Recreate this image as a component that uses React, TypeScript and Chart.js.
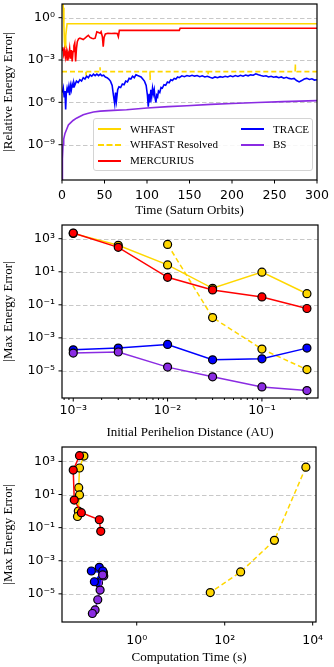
import React, { useEffect, useRef } from 'react';
import { Chart, registerables } from 'chart.js';

Chart.register(...registerables);

// ---------- Panel 1 : relative energy error vs time ----------
const X1_TICKS = [0, 50, 100, 150, 200, 250, 300];
const Y1_TICKS = [1e-9, 1e-6, 1e-3, 1];

const WHFAST_T = [0.8, 1.5, 2.2, 2.9, 3.6, 4.4, 5.2, 6.0, 300];
const WHFAST_E = [30, 5, 0.3, 0.02, 0.008, 0.05, 0.15, 0.37, 0.37];

const WHRES_T = [0, 28.2, 28.4, 28.6, 44.6, 44.8, 45.0, 103.5, 103.7, 103.9, 171.8, 172, 172.2, 274.3, 274.5, 274.7, 300];
const WHRES_E = [1.5e-4, 1.5e-4, 7.8e-5, 1.5e-4, 1.5e-4, 3.0e-4, 1.5e-4, 1.5e-4, 3.8e-5, 1.5e-4, 1.5e-4, 8.7e-5, 1.5e-4, 1.5e-4, 5.2e-4, 1.5e-4, 1.5e-4];

const MERC_T = [0, 1, 2, 3, 4, 5, 6, 7, 8, 9, 10, 11, 12, 13, 14, 15, 16, 17, 18,
  19.5, 21, 23, 25, 27, 29, 31, 33, 35, 37, 39,
  41, 43, 45, 46, 47.5, 48.5, 49.5, 51, 54, 58, 62, 65, 66.3, 67.5,
  138, 139, 300];
const MERC_E = [5.0e-3, 7.9e-3, 2.5e-3, 5.0e-3, 1.6e-3, 4.0e-3, 1.0e-3, 3.2e-3, 2.0e-3, 6.3e-3, 1.26e-3, 5.0e-3, 7.9e-4, 4.0e-3, 1.0e-2, 1.6e-2, 7.9e-4, 6.3e-3, 2.0e-2,
  3.2e-2, 3.5e-2, 3.2e-2, 2.8e-2, 3.5e-2, 4.5e-2, 5.6e-2, 4.0e-2, 3.5e-2, 3.2e-2, 3.5e-2,
  0.1, 8.9e-2, 7.9e-2, 0.1, 4.5e-2, 8.9e-3, 4.0e-2, 7.1e-2, 7.9e-2, 7.6e-2, 7.9e-2, 7.6e-2, 4.5e-2, 0.126,
  0.126, 0.178, 0.178];

const TRACE_T = [0.5, 1.5, 2.5, 3.5, 4.3, 5, 6, 7, 8, 9, 10, 11, 12, 13, 14, 15,
  17, 19, 21, 23, 25, 27, 29, 31, 33, 35, 37, 39, 41, 43, 45, 47, 49, 51, 53, 55, 57, 59,
  60.5, 62, 63, 64, 65.5,
  67, 69, 71, 73, 75, 77, 79, 81, 83, 85, 87, 89, 91, 93, 95, 97, 99,
  100.5, 101.5, 102.5, 103.5, 104.5, 105.5, 106.5, 107.5, 108.5, 109.5, 110.5, 111.5, 112.5, 113.5,
  115, 116.5, 118,
  120, 122, 124, 126, 128, 130, 132, 134, 136, 138,
  141, 144, 147, 150, 153, 156, 159, 162, 165, 168, 171, 174, 177, 180, 183, 186, 189, 192, 195, 198,
  201, 204, 207, 210, 213, 216, 219, 222, 225, 228, 231, 234, 237, 240, 243, 246, 249, 252, 255, 258,
  261, 264, 267, 270, 273, 276, 279, 282, 285, 288, 291, 294, 297, 300];
const TRACE_E = [5.0e-6, 1.0e-5, 2.5e-6, 6.3e-6, 3.2e-7, 4.0e-6, 1.0e-5, 5.0e-6, 1.26e-5, 3.2e-6, 1.6e-5, 7.9e-6, 2.0e-5, 1.26e-5, 2.5e-5, 1.6e-5,
  3.2e-5, 2.5e-5, 4.0e-5, 3.2e-5, 5.6e-5, 4.5e-5, 7.1e-5, 5.6e-5, 8.9e-5, 7.1e-5, 1.0e-4, 7.9e-5, 1.0e-4, 7.9e-5, 1.0e-4, 7.6e-5, 8.3e-5, 6.3e-5, 5.6e-5, 4.5e-5, 3.2e-5, 1.6e-5,
  3.2e-6, 7.9e-7, 5.0e-6, 1.26e-6, 7.9e-6,
  1.26e-5, 1.12e-5, 2.0e-5, 1.78e-5, 3.2e-5, 2.8e-5, 5.0e-5, 4.5e-5, 7.1e-5, 5.6e-5, 8.9e-5, 7.9e-5, 7.1e-5, 6.3e-5, 4.5e-5, 3.2e-5, 1.6e-5,
  3.2e-6, 5.0e-7, 4.0e-6, 1.0e-6, 7.9e-6, 2.5e-6, 1.0e-5, 4.0e-6, 7.9e-6, 2.0e-6, 1.0e-6, 3.2e-6, 2.5e-6, 6.3e-6,
  5.0e-6, 1.12e-5, 1.0e-5,
  1.78e-5, 1.6e-5, 2.8e-5, 2.5e-5, 4.0e-5, 3.5e-5, 5.0e-5, 4.5e-5, 6.3e-5, 5.6e-5,
  7.6e-5, 6.6e-5, 7.9e-5, 7.1e-5, 8.3e-5, 7.2e-5, 7.9e-5, 6.6e-5, 7.6e-5, 6.3e-5, 7.1e-5, 6.0e-5, 5.2e-5, 6.3e-5, 5.6e-5, 6.6e-5, 6.0e-5, 7.1e-5, 6.3e-5, 7.6e-5,
  6.6e-5, 7.9e-5, 6.9e-5, 8.3e-5, 7.2e-5, 8.7e-5, 7.6e-5, 8.9e-5, 8.3e-5, 1.05e-4, 8.9e-5, 7.9e-5, 7.1e-5, 7.6e-5, 6.3e-5, 7.1e-5, 6.0e-5, 6.6e-5, 5.6e-5, 6.3e-5,
  5.2e-5, 6.0e-5, 5.0e-5, 4.5e-5, 5.0e-5, 3.5e-5, 2.8e-5, 3.5e-5, 4.5e-5, 5.0e-5, 4.2e-5, 4.7e-5, 3.8e-5, 4.0e-5];

const BS_T = [0.05, 0.5, 1.2, 2, 3.5, 5.5, 7.5, 10, 13, 17, 21, 25, 30, 37, 45, 60, 76, 100, 125, 147, 175, 200, 230, 260, 300];
const BS_E = [1e-13, 1e-10, 1e-9, 2.5e-9, 6.3e-9, 1.26e-8, 2.5e-8, 3.5e-8, 5.2e-8, 7.6e-8, 1e-7, 1.32e-7, 1.6e-7, 2.1e-7, 2.4e-7, 2.7e-7, 3.0e-7, 4.0e-7, 5.0e-7, 5.8e-7, 7.2e-7, 8.3e-7, 9.8e-7, 1.12e-6, 1.32e-6];

// ---------- Panels 2 & 3 : max energy error ----------
const PERI = [0.001, 0.003, 0.01, 0.03, 0.1, 0.3];
const PERI_RES = [0.01, 0.03, 0.1, 0.3];
const ERR_WHFAST = [2100, 400, 26, 1.0, 9.5, 0.47];
const ERR_WHFAST_RES = [450, 0.017, 2.1e-4, 1.2e-5];
const ERR_MERC = [2200, 300, 4.6, 0.8, 0.3, 0.06];
const ERR_TRACE = [1.9e-4, 2.4e-4, 4.0e-4, 4.7e-5, 5.4e-5, 2.4e-4];
const ERR_BS = [1.2e-4, 1.4e-4, 1.7e-5, 4.4e-6, 1.07e-6, 6.5e-7];

const TIME_WHFAST = [0.063, 0.050, 0.048, 0.047, 0.050, 0.045];
const TIME_WHFAST_RES = [7000, 1350, 230, 47];
const TIME_MERC = [0.050, 0.036, 0.038, 0.055, 0.141, 0.152];
const TIME_TRACE = [0.175, 0.093, 0.141, 0.135, 0.109, 0.169];
const TIME_BS = [0.178, 0.168, 0.147, 0.130, 0.113, 0.098];

const Y23_TICKS = [1e-5, 1e-3, 1e-1, 1e1, 1e3];
const X2_TICKS = [8e-4, 9e-4, 1e-3, 2e-3, 3e-3, 4e-3, 5e-3, 6e-3, 7e-3, 8e-3, 9e-3,
  1e-2, 2e-2, 3e-2, 4e-2, 5e-2, 6e-2, 7e-2, 8e-2, 9e-2, 1e-1, 2e-1, 3e-1];
const X2_LABELED = [1e-3, 1e-2, 1e-1];
const X3_TICKS = [1, 100, 10000];

// ---------- styles ----------
const GOLD = '#FFD700';
const RED = '#FF0000';
const BLUE = '#0000FF';
const PURPLE = '#8A2BE2';
const GRID = '#c8c8c8';
const TICK_FONT = { family: "'DejaVu Sans', sans-serif", size: 12.5 };
const TITLE_FONT = { family: "'Liberation Serif', serif", size: 13 };

const SUP: Record<string, string> = {
  '0': '⁰', '1': '¹', '2': '²', '3': '³', '4': '⁴', '5': '⁵', '6': '⁶', '7': '⁷', '8': '⁸', '9': '⁹', '-': '⁻',
};
function powLabel(v: number) {
  const e = Math.round(Math.log10(v));
  return '10' + String(e).split('').map((c) => SUP[c]).join('');
}

const mplAxes = {
  id: 'mplAxes',
  beforeDatasetsDraw(chart: any) {
    const { ctx, chartArea: a, scales } = chart;
    const ys = scales.y;
    ctx.save();
    ctx.strokeStyle = GRID;
    ctx.lineWidth = 1;
    ctx.setLineDash([4.5, 2.5]);
    for (const t of ys.ticks) {
      if (!t.mj) continue;
      const y = Math.round(ys.getPixelForValue(t.value)) + 0.5;
      ctx.beginPath();
      ctx.moveTo(a.left, y);
      ctx.lineTo(a.right, y);
      ctx.stroke();
    }
    ctx.restore();
  },
  afterDraw(chart: any) {
    const { ctx, chartArea: a, scales } = chart;
    ctx.save();
    ctx.strokeStyle = '#000';
    ctx.lineWidth = 1.2;
    ctx.setLineDash([]);
    ctx.strokeRect(a.left, a.top, a.right - a.left, a.bottom - a.top);
    ctx.lineWidth = 1;
    const xs = scales.x;
    for (const t of xs.ticks) {
      const x = xs.getPixelForValue(t.value);
      if (x < a.left - 1 || x > a.right + 1) continue;
      const len = t.mj ? 3.5 : 2;
      ctx.beginPath();
      ctx.moveTo(x, a.bottom);
      ctx.lineTo(x, a.bottom + len);
      ctx.stroke();
    }
    const ys = scales.y;
    for (const t of ys.ticks) {
      const y = ys.getPixelForValue(t.value);
      if (y < a.top - 1 || y > a.bottom + 1) continue;
      const len = t.mj ? 3.5 : 2;
      ctx.beginPath();
      ctx.moveTo(a.left - len, y);
      ctx.lineTo(a.left, y);
      ctx.stroke();
    }
    ctx.restore();
  },
};

function yAxis(type: string, min: number, max: number, ticks: number[], title: string) {
  return {
    type, min, max,
    afterBuildTicks: (s: any) => { s.ticks = ticks.map((v) => ({ value: v, mj: true })); },
    afterFit: (s: any) => { s.width = 62; s.paddingTop = 0; s.paddingBottom = 0; },
    grid: { display: false, drawTicks: false },
    border: { display: false },
    ticks: {
      autoSkip: false, padding: 7, color: '#000', font: TICK_FONT,
      callback: (v: any, i: number, t: any[]) => (t[i] && t[i].mj ? powLabel(v) : ''),
    },
    title: { display: true, text: title, color: '#000', font: TITLE_FONT, padding: { top: 1, bottom: 0 } },
  };
}

function xAxis(type: string, min: number, max: number, ticks: number[], labeled: number[], height: number,
  pad: number, titlePad: number, title: string, log: boolean) {
  return {
    type, min, max,
    afterBuildTicks: (s: any) => { s.ticks = ticks.map((v) => ({ value: v, mj: labeled.includes(v) })); },
    afterFit: (s: any) => { s.height = height; s.paddingLeft = 0; s.paddingRight = 0; },
    grid: { display: false, drawTicks: false },
    border: { display: false },
    ticks: {
      autoSkip: false, maxRotation: 0, minRotation: 0, padding: pad, color: '#000', font: TICK_FONT,
      callback: (v: any, i: number, t: any[]) => (t[i] && t[i].mj ? (log ? powLabel(v) : String(v)) : ''),
    },
    title: { display: true, text: title, color: '#000', font: TITLE_FONT, padding: { top: 0, bottom: titlePad } },
  };
}

function lineSet(label: string, xs: number[], ys: number[], color: string, idx: number, dash: number[] = []) {
  return {
    label,
    data: xs.map((x, i) => ({ x, y: ys[i] })),
    showLine: true,
    borderColor: color,
    backgroundColor: color,
    borderWidth: 1.6,
    borderDash: dash,
    pointRadius: 0,
    pointHoverRadius: 0,
    tension: 0,
    order: -idx,
  };
}

function markerSet(label: string, xs: number[], ys: number[], color: string, idx: number, dash: number[] = []) {
  return {
    label,
    data: xs.map((x, i) => ({ x, y: ys[i] })),
    showLine: true,
    borderColor: color,
    backgroundColor: color,
    borderWidth: 1.5,
    borderDash: dash,
    pointRadius: 4,
    pointHoverRadius: 4,
    pointBackgroundColor: color,
    pointBorderColor: '#000',
    pointBorderWidth: 1.2,
    tension: 0,
    order: -idx,
  };
}

function baseOptions(padTop: number, padRight: number, scales: any) {
  return {
    animation: false,
    responsive: false,
    events: [],
    layout: { padding: { top: padTop, right: padRight, bottom: 0, left: 0 } },
    plugins: { legend: { display: false }, tooltip: { enabled: false } },
    scales,
  };
}

function buildChart1(): any {
  return {
    type: 'scatter',
    data: {
      datasets: [
        lineSet('WHFAST', WHFAST_T, WHFAST_E, GOLD, 0),
        lineSet('WHFAST Resolved', WHRES_T, WHRES_E, GOLD, 1, [5, 3]),
        lineSet('MERCURIUS', MERC_T, MERC_E, RED, 2),
        lineSet('TRACE', TRACE_T, TRACE_E, BLUE, 3),
        lineSet('BS', BS_T, BS_E, PURPLE, 4),
      ],
    },
    options: baseOptions(4, 17, {
      x: xAxis('linear', 0, 300, X1_TICKS, X1_TICKS, 38, 8, 0, 'Time (Saturn Orbits)', false),
      y: yAxis('logarithmic', 3.16e-12, 9.3, Y1_TICKS, '|Relative Energy Error|'),
    }),
    plugins: [mplAxes],
  };
}

function buildChart2(): any {
  return {
    type: 'scatter',
    data: {
      datasets: [
        markerSet('WHFAST', PERI, ERR_WHFAST, GOLD, 0),
        markerSet('WHFAST Resolved', PERI_RES, ERR_WHFAST_RES, GOLD, 1, [5, 3]),
        markerSet('MERCURIUS', PERI, ERR_MERC, RED, 2),
        markerSet('TRACE', PERI, ERR_TRACE, BLUE, 3),
        markerSet('BS', PERI, ERR_BS, PURPLE, 4),
      ],
    },
    options: baseOptions(7, 16, {
      x: xAxis('logarithmic', 7.6e-4, 0.393, X2_TICKS, X2_LABELED, 42, 5, 0, 'Initial Perihelion Distance (AU)', true),
      y: yAxis('logarithmic', 2.3e-7, 6760, Y23_TICKS, '|Max Energy Error|'),
    }),
    plugins: [mplAxes],
  };
}

function buildChart3(): any {
  return {
    type: 'scatter',
    data: {
      datasets: [
        markerSet('WHFAST', TIME_WHFAST, ERR_WHFAST, GOLD, 0),
        markerSet('WHFAST Resolved', TIME_WHFAST_RES, ERR_WHFAST_RES, GOLD, 1, [5, 3]),
        markerSet('MERCURIUS', TIME_MERC, ERR_MERC, RED, 2),
        markerSet('TRACE', TIME_TRACE, ERR_TRACE, BLUE, 3),
        markerSet('BS', TIME_BS, ERR_BS, PURPLE, 4),
      ],
    },
    options: baseOptions(7, 18, {
      x: xAxis('logarithmic', 0.02, 11900, X3_TICKS, X3_TICKS, 45, 11, 2, 'Computation Time (s)', true),
      y: yAxis('logarithmic', 2e-7, 7400, Y23_TICKS, '|Max Energy Error|'),
    }),
    plugins: [mplAxes],
  };
}

function ChartCanvas({ top, height, build }: { top: number; height: number; build: () => any }) {
  const ref = useRef<HTMLCanvasElement>(null);
  useEffect(() => {
    const chart = new Chart(ref.current as HTMLCanvasElement, build());
    return () => chart.destroy();
  }, []);
  return (
    <canvas ref={ref} width={334} height={height}
      style={{ position: 'absolute', left: 0, top, width: 334, height, display: 'block' }} />
  );
}

const LEGEND_ITEMS = [
  { label: 'WHFAST', color: GOLD, dash: false, col: 0, row: 0 },
  { label: 'WHFAST Resolved', color: GOLD, dash: true, col: 0, row: 1 },
  { label: 'MERCURIUS', color: RED, dash: false, col: 0, row: 2 },
  { label: 'TRACE', color: BLUE, dash: false, col: 1, row: 0 },
  { label: 'BS', color: PURPLE, dash: false, col: 1, row: 1 },
];

function Legend() {
  return (
    <div style={{
      position: 'absolute', left: 93, top: 118, width: 220, height: 53, boxSizing: 'border-box',
      border: '1px solid #d4d4d4', borderRadius: 3, background: 'rgba(255,255,255,0.85)',
    }}>
      {LEGEND_ITEMS.map((it) => (
        <div key={it.label} style={{
          position: 'absolute', left: it.col === 0 ? 4 : 147, top: 2.5 + it.row * 15.8, height: 15,
          display: 'flex', alignItems: 'center', whiteSpace: 'nowrap',
        }}>
          <div style={{ width: 23, height: 0, borderTop: `2px ${it.dash ? 'dashed' : 'solid'} ${it.color}`, marginRight: 9 }} />
          <span style={{ fontFamily: "'Liberation Serif', serif", fontSize: 11, color: '#000', lineHeight: '15px' }}>{it.label}</span>
        </div>
      ))}
    </div>
  );
}

export default function App() {
  return (
    <div style={{ position: 'absolute', left: 0, top: 0, width: 334, height: 667, background: '#fff', overflow: 'hidden' }}>
      <ChartCanvas top={0} height={218} build={buildChart1} />
      <Legend />
      <ChartCanvas top={218} height={222} build={buildChart2} />
      <ChartCanvas top={440} height={227} build={buildChart3} />
    </div>
  );
}
